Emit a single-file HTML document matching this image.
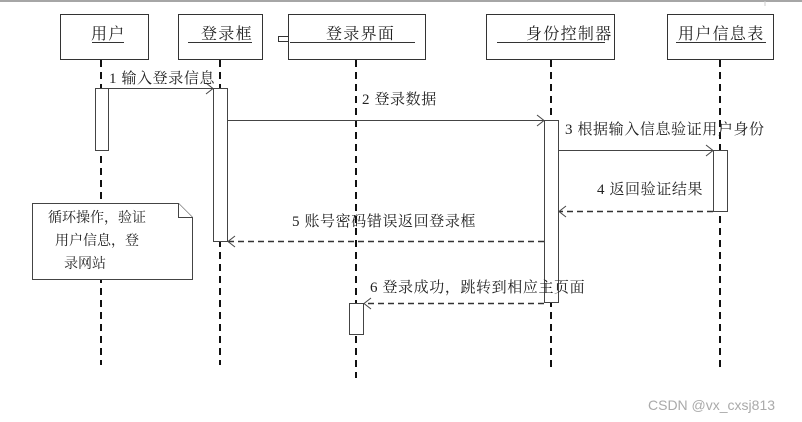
<!DOCTYPE html>
<html><head><meta charset="utf-8"><style>
body{margin:0;background:#fff}
svg{display:block}
text{font-family:"Liberation Serif","Noto Serif CJK SC","Noto Sans CJK SC",serif;font-size:15px;fill:#222;letter-spacing:0.6px}
.h{font-size:16px;letter-spacing:1.3px}
.n{font-size:14px;letter-spacing:0}
</style></head><body>
<svg width="802" height="422" viewBox="0 0 802 422" xmlns="http://www.w3.org/2000/svg">
<line x1="0" y1="1" x2="802" y2="1" stroke="#888" stroke-width="1.5"/>
<line x1="765" y1="1" x2="765" y2="6" stroke="#ccc"/>
<g fill="#fff" stroke="#333" stroke-width="1">
<rect x="60.5" y="14.5" width="88" height="45"/>
<rect x="178.5" y="14.5" width="84" height="45"/>
<rect x="288.5" y="14.5" width="137" height="45"/>
<rect x="278.5" y="36.5" width="10" height="5"/>
<rect x="486.5" y="14.5" width="128" height="45"/>
<rect x="667.5" y="14.5" width="106" height="45"/>
</g>
<g stroke="#333" stroke-width="1">
<line x1="92" y1="42.5" x2="124" y2="42.5"/>
<line x1="188" y1="42.5" x2="252" y2="42.5"/>
<line x1="290" y1="42.5" x2="415" y2="42.5"/>
<line x1="497" y1="42.5" x2="605" y2="42.5"/>
<line x1="676" y1="42.5" x2="766" y2="42.5"/>
</g>
<text class="h" x="91" y="39">用户</text>
<text class="h" x="201" y="39">登录框</text>
<text class="h" x="326" y="39">登录界面</text>
<text class="h" x="526" y="39">身份控制器</text>
<text class="h" x="678" y="39">用户信息表</text>
<g stroke="#111" stroke-width="2" stroke-dasharray="7,5">
<line x1="101" y1="60" x2="101" y2="365"/>
<line x1="220" y1="60" x2="220" y2="365"/>
<line x1="356" y1="60" x2="356" y2="378"/>
<line x1="551" y1="60" x2="551" y2="372"/>
<line x1="720" y1="60" x2="720" y2="372"/>
</g>
<g fill="#fff" stroke="#444" stroke-width="1">
<rect x="95.5" y="88.5" width="13" height="62"/>
<rect x="213.5" y="88.5" width="14" height="153"/>
<rect x="544.5" y="120.5" width="14" height="182"/>
<rect x="713.5" y="150.5" width="14" height="61"/>
<rect x="349.5" y="303.5" width="14" height="31"/>
<path d="M32.5 203.5H178.5L192.5 217.5V279.5H32.5Z"/>
<path d="M178.5 203.5V217.5H192.5"/>
</g>
<g stroke="#444" stroke-width="1" fill="none">
<line x1="108" y1="88.5" x2="213" y2="88.5"/>
<path d="M206 83L213 88.5L206 94"/>
<line x1="227" y1="120.5" x2="544" y2="120.5"/>
<path d="M537 115L544 120.5L537 126"/>
<line x1="558" y1="150.5" x2="713" y2="150.5"/>
<path d="M706 145L713 150.5L706 156"/>
</g>
<g stroke="#333" stroke-width="1.5" fill="none" stroke-dasharray="6,4">
<line x1="713" y1="211.5" x2="559" y2="211.5"/>
<line x1="544" y1="241.5" x2="228" y2="241.5"/>
<line x1="544" y1="303.5" x2="364" y2="303.5"/>
</g>
<g stroke="#444" stroke-width="1" fill="none">
<path d="M566 206L559 211.5L566 217"/>
<path d="M235 236L228 241.5L235 247"/>
<path d="M371 298L364 303.5L371 309"/>
</g>
<text x="109" y="83">1 输入登录信息</text>
<text x="362" y="104">2 登录数据</text>
<text x="565" y="134">3 根据输入信息验证用户身份</text>
<text x="597" y="194">4 返回验证结果</text>
<text x="292" y="226">5 账号密码错误返回登录框</text>
<text x="370" y="292">6 登录成功，跳转到相应主页面</text>
<text class="n" x="48" y="222">循环操作，验证</text>
<text class="n" x="55" y="245">用户信息，登</text>
<text class="n" x="64" y="268">录网站</text>
<text x="648" y="410" style="font-family:'Liberation Sans',sans-serif;font-size:14px;fill:#aaa;letter-spacing:0">CSDN @vx_cxsj813</text>
</svg>
</body></html>
